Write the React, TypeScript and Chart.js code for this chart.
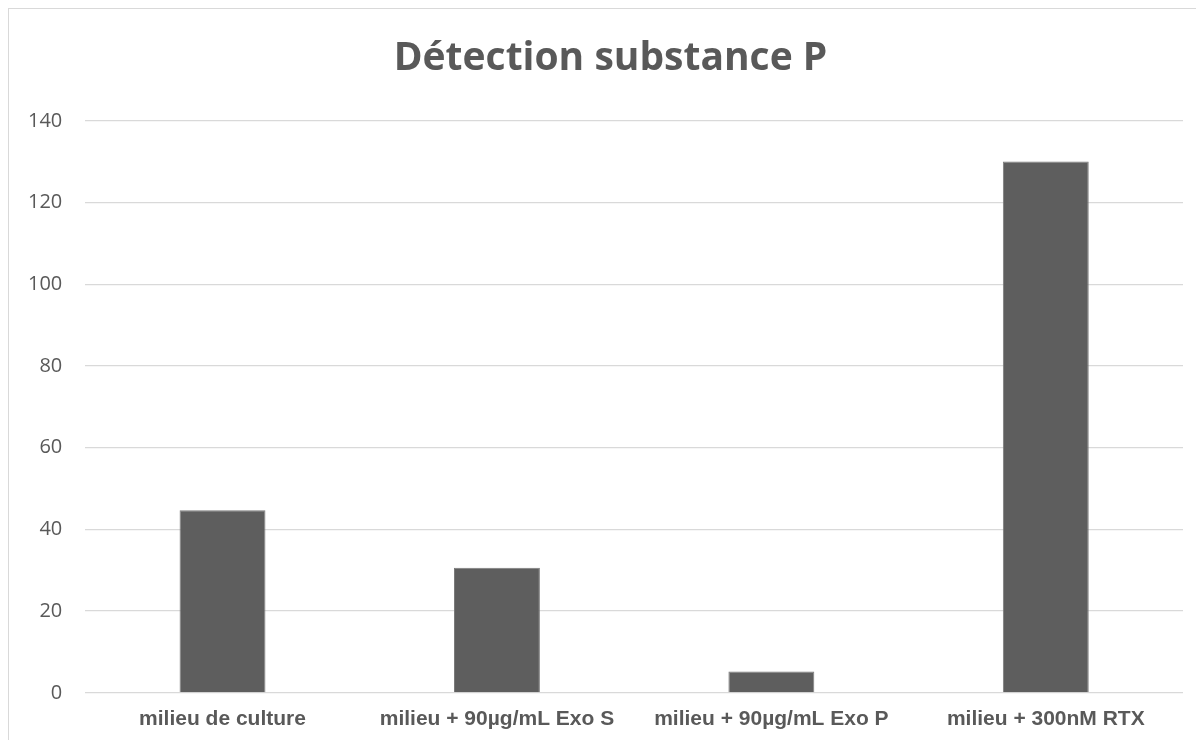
import React, { useEffect, useRef } from "react";
import { Chart, registerables } from "chart.js";

Chart.register(...registerables);

const categories: string[] = [
  "milieu de culture",
  "milieu + 90µg/mL Exo S",
  "milieu + 90µg/mL Exo P",
  "milieu + 300nM RTX",
];
const values: number[] = [44.7, 30.6, 5.2, 130.1];
const titleText = "Détection substance P";
const yMin = 0;
const yMax = 140;
const yStep = 20;

const titlePlugin = {
  id: "centeredTitle",
  afterDraw(chart: any) {
    const ctx = chart.ctx as CanvasRenderingContext2D;
    ctx.save();
    ctx.fillStyle = "#595959";
    ctx.font = "bold 39px 'Open Sans', sans-serif";
    ctx.textAlign = "center";
    ctx.textBaseline = "middle";
    ctx.fillText(titleText, chart.width / 2 + 4, 50);
    ctx.restore();
  },
};

export default function App() {
  const ref = useRef<HTMLCanvasElement | null>(null);

  useEffect(() => {
    if (!ref.current) return;
    const chart = new Chart(ref.current, {
      type: "bar",
      data: {
        labels: categories,
        datasets: [
          {
            data: values,
            backgroundColor: "#5e5e5e",
            borderColor: "#7a7a7a",
            borderWidth: 1,
            barPercentage: 0.313,
            categoryPercentage: 1,
          },
        ],
      },
      plugins: [titlePlugin],
      options: {
        animation: false,
        responsive: false,
        maintainAspectRatio: false,
        layout: { padding: { top: 112, left: -4, right: 21, bottom: -6 } },
        plugins: {
          legend: { display: false },
          tooltip: { enabled: false },
          title: { display: false },
        },
        scales: {
          x: {
            grid: { display: false, drawTicks: false },
            border: { display: false },
            ticks: {
              color: "#595959",
              padding: 14,
              maxRotation: 0,
              autoSkip: false,
              font: { family: "'Liberation Sans', Arial, sans-serif", size: 21, weight: "bold" },
            },
          },
          y: {
            min: yMin,
            max: yMax,
            grid: { color: "#d9d9d9", lineWidth: 1.3, drawTicks: false },
            border: { display: false },
            ticks: {
              stepSize: yStep,
              color: "#595959",
              padding: 23,
              font: { family: "'Open Sans', sans-serif", size: 20 },
            },
          },
        },
      },
    });
    return () => chart.destroy();
  }, []);

  return (
    <div
      style={{
        width: 1195,
        height: 731,
        borderLeft: "1px solid #d9d9d9",
        borderTop: "1px solid #d9d9d9",
        background: "#fff",
      }}
    >
      <canvas ref={ref} width={1195} height={731} style={{ display: "block" }} />
    </div>
  );
}
